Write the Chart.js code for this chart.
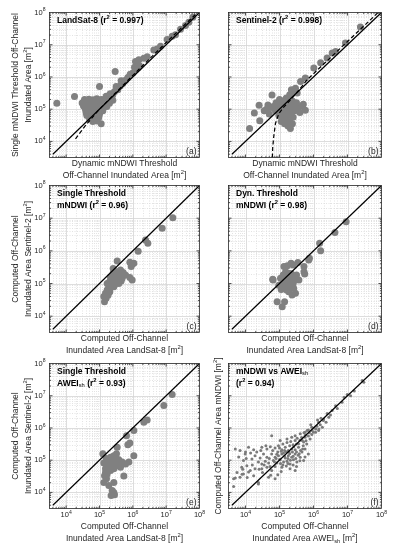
<!DOCTYPE html>
<html>
<head>
<meta charset="utf-8">
<script src="https://cdn.jsdelivr.net/npm/chart.js@4.4.1/dist/chart.umd.min.js"></script>
<style>
  body { margin: 0; background: #fff; }
  #wrap { position: relative; width: 393px; height: 550px; }
  #wrap canvas { position: absolute; left: 0; top: 0; }
</style>
</head>
<body>
<div id="wrap">
  <canvas id="pa" width="393" height="550"></canvas>
  <canvas id="pb" width="393" height="550"></canvas>
  <canvas id="pc" width="393" height="550"></canvas>
  <canvas id="pd" width="393" height="550"></canvas>
  <canvas id="pe" width="393" height="550"></canvas>
  <canvas id="pf" width="393" height="550"></canvas>
</div>
<script>
// all values are log10 of the inundated area in m²
const LOG_MIN = 3.5, LOG_MAX = 8;
const majorExps = [4, 5, 6, 7, 8];
const oneToOne = [3.6, 8];

// (a) LandSat-8, dynamic (x) vs single (y) mNDWI threshold
const aPts = [
  [3.72,5.18],[4.25,5.39],[5.00,5.70],[5.47,6.17],[5.05,4.55],
  [4.55,5.30],[4.68,5.31],[4.80,5.29],[4.92,5.32],[5.05,5.30],[5.18,5.33],[5.32,5.35],[5.40,5.45],
  [4.48,5.19],[4.62,5.21],[4.75,5.18],[4.88,5.20],[5.00,5.22],[5.12,5.19],[5.25,5.24],[5.40,5.28],
  [4.52,5.10],[4.65,5.08],[4.78,5.11],[4.90,5.09],[5.03,5.12],[5.15,5.10],[5.30,5.18],
  [4.58,4.99],[4.70,5.01],[4.83,4.98],[4.95,5.02],[5.08,5.00],[5.22,5.08],
  [4.60,4.89],[4.72,4.91],[4.85,4.88],[4.98,4.92],[5.10,4.95],
  [4.62,4.80],[4.75,4.79],[4.88,4.81],[5.00,4.84],
  [4.70,4.70],[4.85,4.71],[4.98,4.74],[4.80,4.62],[4.93,4.63],
  [5.20,5.40],[5.32,5.48],[5.45,5.55],[5.55,5.60],[5.62,5.72],[5.50,5.70],[5.70,5.80],[5.78,5.90],
  [5.65,5.88],[5.85,5.98],[5.92,6.08],[6.00,6.12],[6.08,6.22],[6.15,6.28],[6.05,6.30],[6.20,6.35],
  [6.08,6.48],[6.18,6.53],[6.33,6.58],[6.43,6.63],[6.63,6.84],[6.73,6.87],[6.83,6.95],[7.03,7.16],
  [7.18,7.26],[7.28,7.31],[7.43,7.48],[7.58,7.60],[7.68,7.70],[7.80,7.85]
];
const aFit = [[4.28,4.08],[4.6,4.52],[5.0,5.0],[6.0,6.05],[7.0,7.07],[7.94,8.0]];

// (b) Sentinel-2, dynamic (x) vs single (y) mNDWI threshold
const bPts = [
  [4.12,4.40],[4.26,4.88],[4.40,5.12],[4.42,4.64],[4.55,4.95],[4.62,5.00],[4.66,5.13],[4.70,4.85],[4.78,5.44],[4.75,5.05],
  [4.82,5.08],[4.88,4.95],[4.90,5.20],[4.95,5.05],[4.98,4.80],[5.00,5.30],[5.02,5.15],[5.05,4.92],[5.08,5.02],[5.10,5.25],
  [5.12,4.72],[5.15,5.12],[5.18,4.88],[5.20,5.35],[5.22,5.00],[5.25,4.80],[5.28,5.18],[5.30,4.62],[5.32,5.05],[5.35,4.90],
  [5.38,5.25],[5.40,4.75],[5.42,5.10],[5.45,4.95],[5.50,5.20],[5.55,5.02],[5.60,4.90],[5.65,5.10],[5.76,4.97],[5.70,5.15],
  [5.15,4.55],[5.25,4.48],[5.32,4.40],[5.38,4.55],[5.20,4.65],[5.05,4.62],
  [5.30,5.45],[5.40,5.55],[5.47,5.65],[5.35,5.60],[5.52,5.50],[5.62,5.86],[5.76,5.97],[6.01,6.28],
  [6.21,6.44],[6.40,6.59],[6.55,6.74],[6.65,6.79],[6.94,7.05],[7.38,7.55]
];
const bFit = [[4.79,3.5],[4.80,3.8],[4.83,4.14],[4.88,4.55],[4.98,4.86],[5.13,5.07],[5.32,5.28],[5.57,5.59],[5.81,5.91],[6.5,6.6],[7.0,7.1],[7.9,8.0]];

// (c) single threshold mNDWI, LandSat-8 (x) vs Sentinel-2 (y)
const cPts = [
  [5.15,4.44],[5.13,4.60],[5.18,4.70],[5.23,4.80],[5.31,4.75],[5.28,4.90],[5.35,4.95],[5.43,4.90],[5.38,5.06],[5.48,5.06],
  [5.45,5.21],[5.55,5.16],[5.61,5.26],[5.68,5.16],[5.71,5.34],[5.58,5.00],[5.51,5.31],[5.41,5.31],[5.33,5.18],[5.23,5.00],
  [5.63,5.41],[5.78,5.26],[5.53,5.69],[5.41,5.46],[5.91,5.18],[5.98,5.11],[5.91,5.65],[5.98,5.59],[5.95,5.52],[6.03,5.62],
  [6.16,5.99],[6.38,6.33],[6.45,6.23],[6.88,6.69],[7.20,7.01],
  [5.20,4.55],[5.26,4.65],[5.40,5.12],[5.50,5.12],[5.46,4.98],[5.55,5.36],[5.30,5.05],[5.65,5.08]
];

// (d) dynamic threshold mNDWI, LandSat-8 (x) vs Sentinel-2 (y)
const dPts = [
  [4.93,4.44],[5.15,4.44],[5.08,4.29],[4.81,5.11],[4.98,4.95],[5.05,4.82],[5.11,5.26],[5.13,5.52],[5.23,5.54],[5.34,5.62],
  [5.40,5.57],[5.18,5.36],[5.27,5.31],[5.21,5.16],[5.32,5.21],[5.37,5.06],[5.47,5.11],[5.57,5.11],[5.13,5.03],[5.24,4.95],
  [5.34,4.90],[5.42,4.85],[5.27,4.75],[5.21,4.80],[5.47,4.70],[5.37,4.65],[5.03,5.16],[5.30,5.06],[5.50,5.26],[5.72,5.52],
  [5.72,5.36],[5.74,5.29],[5.86,5.72],[5.54,5.64],[5.88,5.77],[6.18,6.23],[6.21,6.00],[6.63,6.56],[6.96,6.89],[4.80,5.13],
  [5.15,5.12],[5.25,5.05],[5.40,5.00],[5.30,4.85],[5.45,5.20],[5.20,4.90],[5.35,5.30],[5.08,4.98]
];

// (e) single threshold AWEIsh, LandSat-8 (x) vs Sentinel-2 (y)
const ePts = [
  [5.10,5.20],[5.13,4.91],[5.23,4.99],[5.33,5.09],[5.43,5.14],[5.28,4.83],[5.38,4.91],[5.48,4.97],[5.58,5.01],[5.68,4.94],
  [5.78,4.88],[5.88,4.94],[5.53,4.83],[5.63,4.78],[5.43,4.73],[5.33,4.68],[5.18,4.73],[5.23,4.57],[5.15,4.52],[5.21,4.42],
  [5.13,4.31],[5.43,4.31],[5.28,4.21],[5.38,4.06],[5.43,4.00],[5.35,3.90],[5.45,3.93],[5.73,4.51],[5.40,5.00],[5.50,5.06],
  [5.20,5.05],[5.30,4.95],[5.45,4.85],[5.60,4.90],[5.18,4.62],[5.25,4.78],
  [5.53,5.40],[5.51,5.20],[5.81,5.76],[5.85,5.48],[5.91,5.53],[6.03,5.14],[6.03,5.92],[6.33,6.18],[6.43,6.25],[6.93,6.70],[7.18,7.04]
];

// (f) mNDWI (y) vs AWEIsh (x), all scenes
const fPts = [
  [5.95,6.02],[6.07,5.97],[6.15,6.18],[6.29,6.23],[5.85,5.94],[5.75,5.87],[6.00,5.87],[6.15,5.92],
  [4.77,5.76],[5.02,5.61],[5.22,5.66],[5.36,5.71],[5.46,5.76],[5.61,5.82],[5.75,5.71],[5.90,5.66],[5.46,5.61],[5.56,5.51],[5.71,5.56],
  [3.70,5.35],[3.84,5.30],[4.09,5.40],[4.24,5.32],[4.48,5.40],[4.63,5.35],[4.73,5.42],[4.87,5.38],[4.97,5.45],[5.07,5.32],
  [5.17,5.40],[5.26,5.30],[5.36,5.35],[5.46,5.32],[5.56,5.40],[5.66,5.25],[5.75,5.35],[5.85,5.19],
  [3.99,5.19],[4.28,5.14],[4.43,5.07],[4.53,5.19],[4.63,5.09],[4.77,5.19],[4.87,5.09],[4.97,5.14],[5.07,5.19],[5.17,5.07],
  [5.26,5.14],[5.36,5.09],[5.46,5.19],[5.61,5.09],[5.71,4.99],
  [3.94,4.99],[4.19,5.04],[4.38,4.94],[4.48,4.88],[4.58,4.97],[4.68,4.91],[4.82,4.99],[4.92,4.91],[5.02,5.01],[5.12,4.94],
  [5.22,4.97],[5.31,4.88],[5.41,5.01],[5.51,4.94],
  [3.89,4.78],[4.04,4.83],[4.14,4.68],[4.28,4.73],[4.48,4.73],[4.63,4.78],[4.77,4.68],[4.87,4.80],[5.07,4.78],[5.31,4.73],[5.46,4.68],
  [3.65,4.42],[3.70,4.45],[3.84,4.47],[3.94,4.57],[4.09,4.63],[4.24,4.52],[4.38,4.31],[4.68,4.47],[4.87,4.42],
  [3.65,4.18],[4.38,4.26],
  [5.67,5.61],[5.76,5.77],[5.81,5.92],[5.96,5.92],[6.06,5.87],[6.16,5.97],[6.26,6.02],[6.30,6.28],[6.37,6.18],[6.45,6.33],
  [6.55,6.54],[6.65,6.69],[6.84,6.80],[6.99,7.04],[7.09,7.00],[7.43,7.47],[7.48,7.42],
  [4.00,5.25],[3.92,4.72],[3.90,4.56],[4.05,4.46],[4.74,4.53],[4.50,4.62],
  [4.95,5.25],[5.05,5.28],[5.12,5.22],[5.20,5.25],[5.30,5.20],[5.38,5.25],[5.15,5.12],[5.25,5.05],[5.32,5.00],[5.40,5.12],
  [5.50,5.25],[5.55,5.15],[5.62,5.30],[5.70,5.45],[5.80,5.50],[5.50,5.50],[5.60,5.62],[5.40,5.48],[5.30,5.45],[5.85,5.75],
  [5.95,5.80],[6.10,6.05],[6.20,6.10],[5.00,5.02],[4.90,5.05],[5.10,4.85],[5.20,4.82],[5.40,4.85],[5.60,4.98],[5.75,5.10],
  [3.75,4.62],[3.80,5.10],[4.02,5.05],[4.15,5.22],[4.20,4.85],[4.33,5.25],[4.40,4.72],[4.45,5.30],[4.55,4.85],[4.60,5.45],
  [4.70,5.05],[4.72,4.80],[4.80,5.30],[4.85,4.95],[4.92,5.18],[5.00,5.38],[5.03,4.90],[5.10,5.50],[5.15,5.30],[5.22,5.55],
  [5.28,5.25],[5.33,5.58],[5.42,5.42],[5.48,5.05],[5.52,5.68],[5.58,5.20],[5.65,5.70],[5.68,5.35],[5.72,5.85],[5.78,5.60],
  [5.88,5.85],[5.92,6.10],[6.02,6.00],[6.12,6.25],[6.22,6.30],[6.40,6.45],[6.50,6.40],[6.70,6.60],[6.90,6.95],[7.20,7.15],
  [5.05,4.65],[4.95,4.55],[5.25,4.90],[5.50,4.80]
];

const FONT = "'Liberation Sans', Arial, Helvetica, sans-serif";
const INK = '#262626';

// segments: plain text, '^x' superscript, '_x' subscript
function drawRich(ctx, segs, x, y, size, weight, align) {
  const parts = segs.map(s => {
    const mode = s[0] === '^' ? 'sup' : s[0] === '_' ? 'sub' : '';
    const text = mode ? s.slice(1) : s;
    const sz = mode ? size * 0.68 : size;
    const w = mode === 'sub' ? 'normal' : weight;
    ctx.font = `${w} ${sz}px ${FONT}`;
    return { text, mode, sz, w, width: ctx.measureText(text).width };
  });
  const total = parts.reduce((s, p) => s + p.width, 0);
  let cx = align === 'center' ? x - total / 2 : align === 'right' ? x - total : x;
  ctx.textAlign = 'left';
  ctx.textBaseline = 'middle';
  for (const p of parts) {
    ctx.font = `${p.w} ${p.sz}px ${FONT}`;
    const dy = p.mode === 'sup' ? -size * 0.38 : p.mode === 'sub' ? size * 0.25 : 0;
    ctx.fillText(p.text, cx, y + dy);
    cx += p.width;
  }
}

const leftCol = { l: 49.5, r: 199.5 }, rightCol = { l: 228.5, r: 381.5 };
const rows = [{ t: 12.5, b: 157.5 }, { t: 185.5, b: 332.5 }, { t: 363.5, b: 508.5 }];

const panels = [
  { id: 'pa', col: leftCol, row: rows[0], pts: aPts, fit: aFit, tag: '(a)', yLabels: true, xLabels: false,
    yTitle: [['Single mNDWI Threshold Off-Channel'], ['Inundated Area [m', '^2', ']']],
    xTitle: [['Dynamic mNDWI Threshold'], ['Off-Channel Inundated Area [m', '^2', ']']],
    note: [['LandSat-8 (r', '^2', ' = 0.997)']] },
  { id: 'pb', col: rightCol, row: rows[0], pts: bPts, fit: bFit, tag: '(b)', yLabels: false, xLabels: false,
    yTitle: [],
    xTitle: [['Dynamic mNDWI Threshold'], ['Off-Channel Inundated Area [m', '^2', ']']],
    note: [['Sentinel-2 (r', '^2', ' = 0.998)']] },
  { id: 'pc', col: leftCol, row: rows[1], pts: cPts, tag: '(c)', yLabels: true, xLabels: false,
    yTitle: [['Computed Off-Channel'], ['Inundated Area Sentinel-2 [m', '^2', ']']],
    xTitle: [['Computed Off-Channel'], ['Inundated Area LandSat-8 [m', '^2', ']']],
    note: [['Single Threshold'], ['mNDWI (r', '^2', ' = 0.96)']] },
  { id: 'pd', col: rightCol, row: rows[1], pts: dPts, tag: '(d)', yLabels: false, xLabels: false,
    yTitle: [],
    xTitle: [['Computed Off-Channel'], ['Inundated Area LandSat-8 [m', '^2', ']']],
    note: [['Dyn. Threshold'], ['mNDWI (r', '^2', ' = 0.98)']] },
  { id: 'pe', col: leftCol, row: rows[2], pts: ePts, tag: '(e)', yLabels: true, xLabels: true,
    yTitle: [['Computed Off-Channel'], ['Inundated Area Sentinel-2 [m', '^2', ']']],
    xTitle: [['Computed Off-Channel'], ['Inundated Area LandSat-8 [m', '^2', ']']],
    note: [['Single Threshold'], ['AWEI', '_sh', ' (r', '^2', ' = 0.93)']] },
  { id: 'pf', col: rightCol, row: rows[2], pts: fPts, tag: '(f)', yLabels: false, xLabels: true, small: true,
    yTitle: [['Computed Off-Channel Area mNDWI [m', '^2', ']']],
    xTitle: [['Computed Off-Channel'], ['Inundated Area AWEI', '_sh', ' [m', '^2', ']']],
    note: [['mNDWI vs AWEI', '_sh'], ['(r', '^2', ' = 0.94)']] }
];

function makeDecor(p) {
  const gridValues = [];
  for (let e = 3; e <= 7; e++) for (let k = 1; k <= 9; k++) {
    const v = k * 10 ** e;
    if (Math.log10(v) > LOG_MIN && Math.log10(v) < LOG_MAX) gridValues.push({ v, major: k === 1 });
  }
  return {
    id: 'decor_' + p.id,
    beforeDatasetsDraw(chart) {
      const { ctx, chartArea: a, scales: { x, y } } = chart;
      ctx.save();
      ctx.beginPath();
      ctx.rect(a.left, a.top, a.right - a.left, a.bottom - a.top);
      ctx.clip();
      ctx.lineWidth = 0.8;
      for (const g of gridValues) {
        ctx.strokeStyle = g.major ? '#d4d4d4' : '#dcdcdc';
        ctx.setLineDash(g.major ? [] : [1, 1.5]);
        const px = Math.round(x.getPixelForValue(g.v)) + 0.5;
        const py = Math.round(y.getPixelForValue(g.v)) + 0.5;
        ctx.beginPath();
        ctx.moveTo(px, a.top); ctx.lineTo(px, a.bottom);
        ctx.moveTo(a.left, py); ctx.lineTo(a.right, py);
        ctx.stroke();
      }
      ctx.restore();
    },
    afterDraw(chart) {
      const { ctx, chartArea: a, scales: { x, y } } = chart;
      ctx.save();
      ctx.strokeStyle = INK;
      ctx.lineWidth = 0.8;
      ctx.strokeRect(a.left, a.top, a.right - a.left, a.bottom - a.top);
      // inward ticks on all four sides
      ctx.beginPath();
      for (const g of gridValues) {
        const len = g.major ? 3 : 1.6;
        const px = x.getPixelForValue(g.v), py = y.getPixelForValue(g.v);
        ctx.moveTo(px, a.bottom); ctx.lineTo(px, a.bottom - len);
        ctx.moveTo(px, a.top); ctx.lineTo(px, a.top + len);
        ctx.moveTo(a.left, py); ctx.lineTo(a.left + len, py);
        ctx.moveTo(a.right, py); ctx.lineTo(a.right - len, py);
      }
      ctx.stroke();

      ctx.fillStyle = INK;
      for (const e of majorExps) {
        if (p.yLabels) drawRich(ctx, ['10', '^' + e], a.left - 4, y.getPixelForValue(10 ** e), 7.5, 'normal', 'right');
        if (p.xLabels) drawRich(ctx, ['10', '^' + e], x.getPixelForValue(10 ** e), a.bottom + 6.5, 7.5, 'normal', 'center');
      }

      const cx = (a.left + a.right) / 2, cy = (a.top + a.bottom) / 2;
      const xOff = p.xLabels ? 18 : 6;
      p.xTitle.forEach((line, i) => drawRich(ctx, line, cx, a.bottom + xOff + i * 12.5, 8.5, 'normal', 'center'));

      ctx.save();
      ctx.translate(a.left, cy);
      ctx.rotate(-Math.PI / 2);
      const n = p.yTitle.length;
      p.yTitle.forEach((line, i) => drawRich(ctx, line, 0, -(n === 1 ? 10 : 34 - i * 13), 8.5, 'normal', 'center'));
      ctx.restore();

      ctx.fillStyle = '#000';
      p.note.forEach((line, i) => drawRich(ctx, line, a.left + 7.5, a.top + 8 + i * 11.8, 8.5, 'bold', 'left'));
      ctx.fillStyle = INK;
      drawRich(ctx, [p.tag], a.right - 3, a.bottom - 6, 8.5, 'normal', 'right');
      ctx.restore();
    }
  };
}

const toXY = pts => pts.map(([lx, ly]) => ({ x: 10 ** lx, y: 10 ** ly }));

for (const p of panels) {
  const datasets = [
    { data: toXY(oneToOne.map(v => [v, v])), showLine: true, borderColor: '#000', borderWidth: 1.2, pointRadius: 0 }
  ];
  if (p.fit) {
    datasets.push({ data: toXY(p.fit), showLine: true, borderColor: '#000', borderWidth: 1.2, borderDash: [4, 2.5], pointRadius: 0 });
  }
  datasets.push({
    data: toXY(p.pts),
    pointRadius: p.small ? 1.5 : 3.5,
    backgroundColor: p.small ? '#7a7a7a' : '#808080',
    borderWidth: 0
  });

  new Chart(document.getElementById(p.id), {
    type: 'scatter',
    data: { datasets },
    options: {
      responsive: false,
      animation: false,
      events: [],
      layout: { padding: { left: p.col.l, right: 393 - p.col.r, top: p.row.t, bottom: 550 - p.row.b } },
      scales: {
        x: { type: 'logarithmic', min: 10 ** LOG_MIN, max: 10 ** LOG_MAX, display: false },
        y: { type: 'logarithmic', min: 10 ** LOG_MIN, max: 10 ** LOG_MAX, display: false }
      },
      plugins: { legend: { display: false }, tooltip: { enabled: false } }
    },
    plugins: [makeDecor(p)]
  });
}
</script>
</body>
</html>
